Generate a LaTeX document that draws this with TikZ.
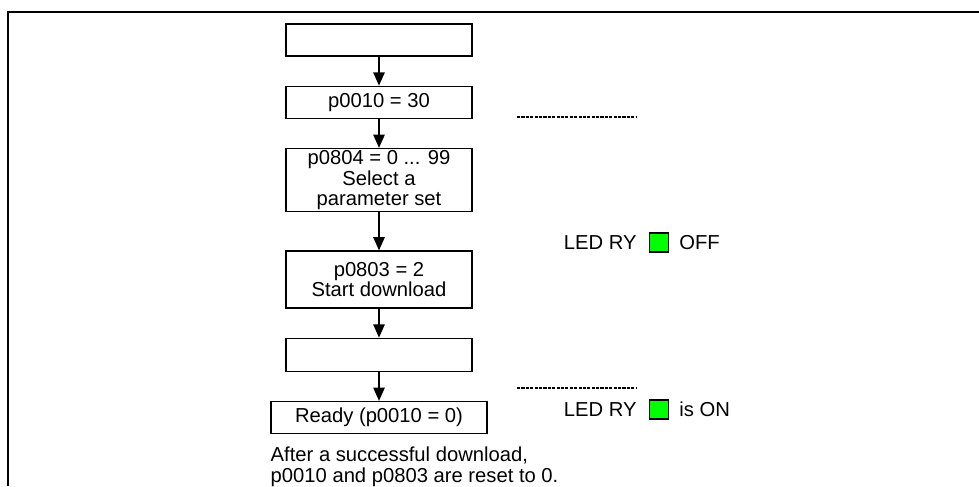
\documentclass[tikz,border=0pt]{standalone}
\usepackage{fontspec}
\setmainfont{Liberation Sans}
\usepackage{xcolor}
\usepackage{tikz}
\usetikzlibrary{positioning,arrows.meta}

\begin{document}
\begin{tikzpicture}[
			node distance=0.58cm,
			box/.style={
				draw,
				line width=0.7pt,
				minimum width=3.72cm,
				minimum height=0.64cm,
				inner sep=1pt,
				align=center,
				font=\fontsize{11.5pt}{11.8pt}\selectfont
			},
			txt/.style={inner sep=0pt,font=\fontsize{11.5pt}{11.8pt}\selectfont},
			ledsq/.style={draw,line width=0.6pt,fill=green,minimum size=0.38cm,inner sep=0pt},
			sep/.style={line width=1.2pt,dash pattern=on 1.8pt off 0.7pt},
			arrow/.style={-{Triangle[width=6.5pt,length=7.5pt]},line width=0.7pt}
			]
			
			\useasboundingbox (0,0) rectangle (19.58,-9.72);
			\draw[line width=1pt] (0.16,-9.72) |- (19.58,-0.24);
			
			\node[box] (empty1) at (7.58,-0.8) {};
			\node[box,below=of empty1] (mode) {p0010 = 30};
			\node[box,below=of mode,minimum height=1.24cm] (pset) {p0804 = 0 ... 99\\ Select a\\ parameter set};
			\node[box,below=0.76cm of pset,minimum height=1.14cm] (start) {p0803 = 2\\ Start download};
			\node[box,below=of start,minimum height=0.66cm] (empty2) {};
			\node[box,below=of empty2,minimum width=4.32cm] (ready) {Ready (p0010 = 0)};
			\node[txt,align=left,anchor=north west] (note) at ([yshift=-0.25cm]ready.south west)
				{After a successful download,\\ p0010 and p0803 are reset to 0.};
			
			\draw[arrow] (empty1)--(mode);
			\draw[arrow] (mode)--(pset);
			\draw[arrow] (pset)--(start);
			\draw[arrow] (start)--(empty2);
			\draw[arrow] (empty2)--(ready);
			
			\draw[sep] (10.34,-2.34) -- (12.74,-2.34);
			\draw[sep] (10.34,-7.76) -- (12.74,-7.76);
			
			\node[ledsq] (ledoff) at (13.18,-4.85) {};
			\node[txt,left=0.24cm of ledoff] (ryoff) {LED RY};
			\node[txt,right=0.2cm of ledoff] (off) {OFF};
			
			\node[ledsq] (ledon) at (13.18,-8.19) {};
			\node[txt,left=0.24cm of ledon] (ryon) {LED RY};
			\node[txt,right=0.2cm of ledon] (on) {is ON};
			
		\end{tikzpicture}
\end{document}
